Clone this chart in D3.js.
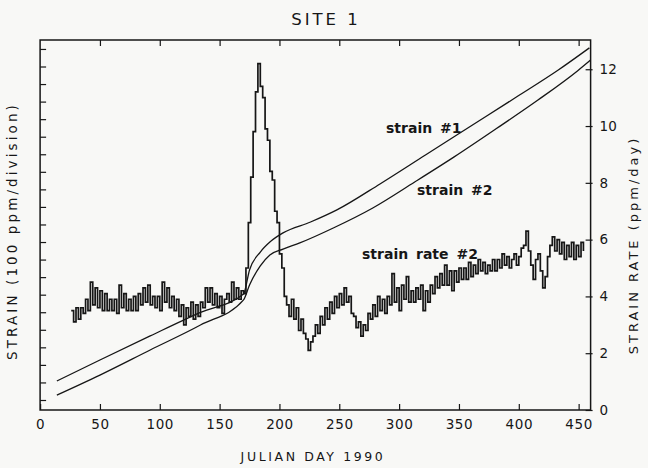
<!DOCTYPE html>
<html>
<head>
<meta charset="utf-8">
<script src="https://cdn.jsdelivr.net/npm/d3@7"></script>
<style>
  html, body { margin: 0; padding: 0; background: #f8f8f6; }
  svg { display: block; font-family: "DejaVu Sans", sans-serif; }
</style>
</head>
<body>
<svg id="chart" width="648" height="468"></svg>
<script>
// ---- data ----
const dayTicks = [0, 50, 100, 150, 200, 250, 300, 350, 400, 450];
const rateTicks = [0, 2, 4, 6, 8, 10, 12];
const strainTicks = d3.range(0, 2001, 100);   // one tick per 100 ppm division

// cumulative strain (ppm) at sampled Julian days
const strain1Days = [14, 50, 92, 134, 170, 175, 184, 192, 203, 226, 248, 284, 322, 360, 398, 433, 459];
const strain1Ppm  = [108, 228, 365, 499, 604, 741, 843, 900, 952, 1014, 1083, 1231, 1396, 1561, 1726, 1880, 2006];

const strain2Days = [14, 50, 92, 134, 170, 175, 184, 192, 203, 217, 245, 278, 313, 346, 381, 416, 449, 460];
const strain2Ppm  = [28, 142, 285, 427, 570, 655, 764, 826, 860, 895, 980, 1094, 1242, 1385, 1545, 1709, 1875, 1937];

// strain rate #2 (ppm/day), one value every 2 days starting at day 26
const rateStartDay = 26;
const rateStepDays = 2;
const strainRate2 = [
  3.5, 3.1, 3.6, 3.2, 3.6, 3.4, 3.9, 3.5,
  4.5, 3.7, 4.3, 3.6, 4.2, 3.5, 4.1, 3.5, 3.9,
  3.5, 3.9, 3.4, 4.4, 3.6, 4.1, 3.5, 3.9, 3.5,
  4.0, 3.5, 4.1, 3.7, 4.3, 3.8, 4.4, 3.7, 4.0,
  3.6, 4.0, 3.5, 4.5, 3.8, 4.3, 3.6, 4.0, 3.5,
  3.9, 3.3, 3.7, 3.0, 3.6, 3.3, 3.8, 3.2, 3.7,
  3.3, 3.8, 3.6, 4.3, 3.8, 4.3, 3.7, 4.1, 3.6,
  4.0, 3.4, 3.9, 4.1, 3.8, 4.5, 3.9, 4.3, 3.9, 4.2,
  4.1, 5.0, 6.6, 8.2, 9.8, 11.2, 12.2, 11.4, 11.0, 9.9, 9.5, 8.4, 8.1, 7.0, 6.6, 5.5, 5.0, 4.0,
  3.7, 3.3, 3.9, 3.2, 3.6, 2.8,
  3.2, 2.7, 2.5, 2.1, 2.4,
  2.6, 3.0, 2.7, 3.3, 3.0, 3.6, 3.2, 3.8, 3.4, 4.0,
  3.6, 4.1, 3.7, 4.3, 3.8, 4.0, 3.4,
  3.3, 2.9, 3.1, 2.6, 3.0, 2.8, 3.4,
  3.2, 3.7, 3.3, 4.0, 3.5, 3.9, 3.4, 4.0,
  3.7, 4.8, 3.8, 4.3, 3.5, 4.4, 3.9, 4.7, 3.8, 4.2,
  3.8, 4.3, 3.9, 4.4, 3.5, 4.2, 3.8, 4.4, 4.1, 4.7,
  4.3, 4.8, 4.4, 5.1, 4.4, 4.9, 4.2, 4.9, 4.5, 5.0, 4.6,
  5.0, 4.6, 5.2, 4.7, 5.1, 4.8, 5.3, 4.9, 5.2, 4.8, 5.1, 4.9,
  5.3, 4.9, 5.3, 5.0, 5.5, 5.1, 5.4, 5.0, 5.3, 5.5, 5.1, 5.4, 5.7,
  5.8, 6.3, 5.6, 5.1, 4.6, 5.3, 5.5, 4.9, 4.3,
  4.7, 5.4, 5.8, 6.1, 5.6, 6.0,
  5.5, 5.9, 5.3, 5.8, 5.4, 5.9, 5.3, 5.8, 5.4, 5.9, 5.6
];

const seriesLabels = [
  { text: "strain #1", x: 386, y: 133 },
  { text: "strain #2", x: 417, y: 195 },
  { text: "strain rate #2", x: 362, y: 259 }
];

// ---- layout ----
const ink = "#161616";
const plot = { left: 40.1, right: 590.6, top: 40, bottom: 410 };

const svg = d3.select("#chart");

const x = d3.scaleLinear().domain([0, 460]).range([plot.left, plot.right]);
const yRate = d3.scaleLinear().domain([0, 13.03]).range([plot.bottom, plot.top]);
const yStrain = d3.scaleLinear().domain([-57, 2051]).range([plot.bottom, plot.top]);

// title
svg.append("text")
  .attr("x", 326).attr("y", 25)
  .attr("text-anchor", "middle")
  .attr("font-size", 16.5).attr("letter-spacing", 3)
  .attr("fill", ink)
  .text("SITE 1");

// bottom axis with labels
const gBottom = svg.append("g")
  .attr("transform", `translate(0,${plot.bottom})`)
  .call(d3.axisBottom(x).tickValues(dayTicks).tickSizeInner(-6).tickSizeOuter(0).tickPadding(9));
gBottom.select(".domain").remove();
gBottom.selectAll("line").attr("stroke", ink).attr("stroke-width", 1.2);
gBottom.selectAll("text").attr("font-size", 13.5).attr("letter-spacing", 0.6)
  .attr("font-family", "DejaVu Sans").attr("fill", ink);

// top axis ticks
const gTop = svg.append("g")
  .attr("transform", `translate(0,${plot.top})`)
  .call(d3.axisTop(x).tickValues(dayTicks.filter(d => d > 0)).tickSizeInner(-6).tickSizeOuter(0).tickFormat(""));
gTop.select(".domain").remove();
gTop.selectAll("line").attr("stroke", ink).attr("stroke-width", 1.2);

// left strain divisions
const gLeft = svg.append("g")
  .attr("transform", `translate(${plot.left},0)`)
  .call(d3.axisLeft(yStrain).tickValues(strainTicks).tickSizeInner(-6).tickSizeOuter(0).tickFormat(""));
gLeft.select(".domain").remove();
gLeft.selectAll("line").attr("stroke", ink).attr("stroke-width", 1.2);

// right strain-rate axis
const gRight = svg.append("g")
  .attr("transform", `translate(${plot.right},0)`)
  .call(d3.axisRight(yRate).tickValues(rateTicks).tickSizeInner(-5).tickSizeOuter(0).tickPadding(9));
gRight.select(".domain").remove();
gRight.selectAll("line").attr("stroke", ink).attr("stroke-width", 1.2).attr("x2", -5).attr("x1", 2);
gRight.selectAll("text").attr("font-size", 13.5).attr("font-family", "DejaVu Sans").attr("fill", ink);

// frame
svg.append("rect")
  .attr("x", plot.left).attr("y", plot.top)
  .attr("width", plot.right - plot.left).attr("height", plot.bottom - plot.top)
  .attr("fill", "none").attr("stroke", ink).attr("stroke-width", 1.5);

// axis titles
svg.append("text")
  .attr("x", 313).attr("y", 461)
  .attr("text-anchor", "middle")
  .attr("font-size", 12.5).attr("letter-spacing", 2.6)
  .attr("fill", ink)
  .text("JULIAN DAY 1990");

svg.append("text")
  .attr("transform", "translate(17,231) rotate(-90)")
  .attr("text-anchor", "middle")
  .attr("font-size", 13.5).attr("letter-spacing", 3.1)
  .attr("fill", ink)
  .text("STRAIN (100 ppm/division)");

svg.append("text")
  .attr("transform", "translate(638,245) rotate(-90)")
  .attr("text-anchor", "middle")
  .attr("font-size", 13).attr("letter-spacing", 3)
  .attr("fill", ink)
  .text("STRAIN RATE (ppm/day)");

// strain curves
const strainLine = d3.line()
  .x(d => x(d[0]))
  .y(d => yStrain(d[1]))
  .curve(d3.curveMonotoneX);

const strain1 = strain1Days.map((d, i) => [d, strain1Ppm[i]]);
const strain2 = strain2Days.map((d, i) => [d, strain2Ppm[i]]);

svg.append("path").datum(strain1)
  .attr("d", strainLine)
  .attr("fill", "none").attr("stroke", ink).attr("stroke-width", 1.3);
svg.append("path").datum(strain2)
  .attr("d", strainLine)
  .attr("fill", "none").attr("stroke", ink).attr("stroke-width", 1.3);

// strain rate series
const rate = strainRate2.map((v, i) => [rateStartDay + i * rateStepDays, v]);
const rateLine = d3.line()
  .x(d => x(d[0]))
  .y(d => yRate(d[1]))
  .curve(d3.curveStepAfter);

svg.append("path").datum(rate)
  .attr("d", rateLine)
  .attr("fill", "none").attr("stroke", ink).attr("stroke-width", 1.7)
  .attr("stroke-linejoin", "miter");

// series labels
svg.selectAll("text.series")
  .data(seriesLabels)
  .join("text")
  .attr("class", "series")
  .attr("x", d => d.x).attr("y", d => d.y)
  .attr("font-size", 14).attr("font-weight", "bold")
  .attr("word-spacing", 3)
  .attr("fill", ink)
  .text(d => d.text);
</script>
</body>
</html>
